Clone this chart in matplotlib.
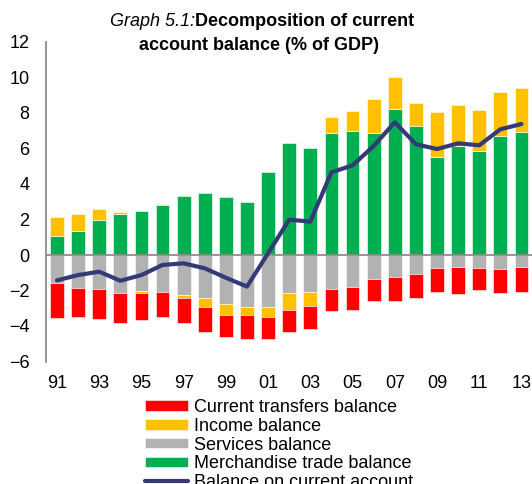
import matplotlib
matplotlib.use("Agg")
import matplotlib.pyplot as plt
import numpy as np

plt.rcParams['font.family'] = ['Liberation Sans', 'DejaVu Sans']

# Data (% of GDP), 1991-2013
years = ['91', '92', '93', '94', '95', '96', '97', '98', '99', '00', '01', '02',
         '03', '04', '05', '06', '07', '08', '09', '10', '11', '12', '13']
merchandise = [1.09, 1.37, 1.99, 2.33, 2.48, 2.84, 3.31, 3.51, 3.27, 2.97, 4.69, 6.29,
               6.01, 6.89, 7.00, 6.89, 8.23, 7.29, 5.51, 6.14, 5.88, 6.70, 6.93]
income = [1.03, 0.94, 0.60, 0.07, -0.13, 0.05, -0.13, -0.49, -0.64, -0.43, -0.54, -0.92,
          -0.75, 0.88, 1.11, 1.92, 1.78, 1.29, 2.53, 2.31, 2.27, 2.47, 2.46]
services = [-1.56, -1.86, -1.93, -2.16, -2.03, -2.10, -2.27, -2.42, -2.76, -2.95, -2.93, -2.16,
            -2.10, -1.92, -1.80, -1.37, -1.22, -1.07, -0.72, -0.66, -0.72, -0.79, -0.66]
transfers = [-2.01, -1.61, -1.66, -1.65, -1.50, -1.37, -1.41, -1.41, -1.22, -1.37, -1.26, -1.26,
             -1.32, -1.23, -1.28, -1.22, -1.35, -1.33, -1.36, -1.54, -1.27, -1.35, -1.41]
current_account = [-1.43, -1.13, -0.94, -1.45, -1.13, -0.56, -0.47, -0.75, -1.28, -1.78, 0.10, 1.99,
                   1.88, 4.66, 5.05, 6.14, 7.48, 6.24, 5.97, 6.29, 6.18, 7.08, 7.38]

c_red = '#ff0000'
c_yellow = '#ffc000'
c_gray = '#b2b2b2'
c_green = '#00b050'
c_line = '#343a78'
fs = 13

W, H = 532, 484
fig = plt.figure(figsize=(W / 100, H / 100), dpi=100)
ax = fig.add_axes([46 / W, 1 - 361.5 / H, (532 - 46) / W, (361.5 - 42) / H])

x = np.arange(len(years))
merch = np.array(merchandise)
inc = np.array(income)
serv = np.array(services)
trans = np.array(transfers)

# income sits on top of merchandise when positive, below services when negative
inc_bottom = np.where(inc >= 0, merch, serv)
trans_bottom = serv + np.minimum(inc, 0)

bw = 0.65
ec = dict(edgecolor='#ffffff', linewidth=0.4)
b_merch = ax.bar(x, merch, bw, color=c_green, zorder=2, **ec)
b_serv = ax.bar(x, serv, bw, color=c_gray, zorder=2, **ec)
b_inc = ax.bar(x, inc, bw, bottom=inc_bottom, color=c_yellow, zorder=2, **ec)
b_trans = ax.bar(x, trans, bw, bottom=trans_bottom, color=c_red, zorder=2, **ec)
ln, = ax.plot(x, current_account, color=c_line, lw=3, solid_capstyle='round', zorder=4)

ax.axhline(0, color='#8c8c8c', lw=1.3, zorder=3)

ax.set_xlim(-0.52, 22.5)
ax.set_ylim(-6, 12)
ax.set_yticks(range(-6, 13, 2))
ax.set_xticks(x[::2])
ax.set_xticklabels(years[::2])
ax.tick_params(axis='both', length=0, labelsize=fs)
ax.tick_params(axis='y', pad=12)
ax.tick_params(axis='x', pad=10)
for s in ['top', 'right', 'bottom']:
    ax.spines[s].set_visible(False)
ax.spines['left'].set_color('#8c8c8c')
ax.spines['left'].set_linewidth(1.3)

# title: italic prefix + bold text
t1 = fig.text(110 / W, 1 - 22 / H, 'Graph 5.1:', style='italic', fontsize=fs,
              ha='left', va='center')
fig.canvas.draw()
bb = t1.get_window_extent()
fig.text(bb.x1 / W, 1 - 22 / H, 'Decomposition of current', fontweight='bold',
         fontsize=fs, ha='left', va='center')
fig.text(259 / W, 1 - 45 / H, 'account balance (% of GDP)', fontweight='bold',
         fontsize=fs, ha='center', va='center')

fig.legend([b_trans, b_inc, b_serv, b_merch, ln],
           ['Current transfers balance', 'Income balance', 'Services balance',
            'Merchandise trade balance', 'Balance on current account'],
           loc='upper left', bbox_to_anchor=(145 / W, 1 - 399 / H), frameon=False,
           fontsize=fs, borderpad=0, borderaxespad=0, handlelength=2.38,
           handleheight=0.52, handletextpad=0.33, labelspacing=0.1)

fig.savefig('out.png', dpi=100)
